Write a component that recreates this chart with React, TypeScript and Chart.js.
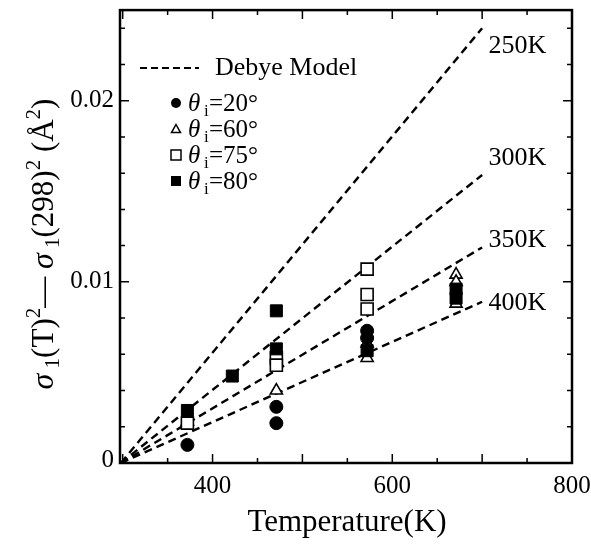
import React, { useEffect, useRef } from 'react';
import { Chart, registerables } from 'chart.js';
Chart.register(...registerables);

// ---- axes ----
const tempMin = 297;
const tempMax = 800;
const yMin = 0;
const yMax = 0.025;
const xTickLabels = [400, 600, 800];
const yTickLabels = [0, 0.01, 0.02];

// ---- measured points ----
const theta20T = [372, 471, 471, 572, 572];
const theta20Y = [0.001, 0.0031, 0.0022, 0.0073, 0.0069];
const theta60T = [372, 471, 572, 572, 671, 671, 671];
const theta60Y = [0.0023, 0.004, 0.0066, 0.0058, 0.0104, 0.01, 0.0088];
const theta75T = [372, 471, 471, 572, 572, 572];
const theta75Y = [0.0022, 0.0058, 0.0054, 0.0107, 0.0093, 0.0085];
const theta80T = [372, 422, 471, 471, 572, 671, 671];
const theta80Y = [0.0029, 0.0048, 0.0084, 0.0063, 0.0062, 0.0096, 0.0091];

// ---- Debye model lines ----
const debyeT = [298, 700];
const debye250Y = [0, 0.024];
const debye300Y = [0, 0.0159];
const debye350Y = [0, 0.0119];
const debye400Y = [0, 0.0089];
const debyeLabels = ['250K', '300K', '350K', '400K'];
const debyeLabelT = 707;
const debyeLabelY = [0.023, 0.0168, 0.0123, 0.0088];

const legendLabels = ['20°', '60°', '75°', '80°'];

const SERIF = "'Liberation Serif', 'Times New Roman', serif";

const pts = (xs: number[], ys: number[]) => xs.map((x, i) => ({ x, y: ys[i] }));

function drawMarker(ctx: CanvasRenderingContext2D, kind: string, x: number, y: number, s: number) {
  ctx.save();
  ctx.lineWidth = 1.5;
  ctx.strokeStyle = '#000';
  ctx.fillStyle = '#000';
  ctx.beginPath();
  if (kind === 'circle') {
    ctx.arc(x, y, s / 2, 0, Math.PI * 2);
    ctx.fill();
  } else if (kind === 'triangle') {
    ctx.moveTo(x, y - s / 2);
    ctx.lineTo(x + s / 2, y + s / 2 * 0.8);
    ctx.lineTo(x - s / 2, y + s / 2 * 0.8);
    ctx.closePath();
    ctx.fillStyle = '#fff';
    ctx.fill();
    ctx.stroke();
  } else if (kind === 'openrect') {
    ctx.rect(x - s / 2, y - s / 2, s, s);
    ctx.fillStyle = '#fff';
    ctx.fill();
    ctx.stroke();
  } else {
    ctx.rect(x - s / 2, y - s / 2, s, s);
    ctx.fill();
  }
  ctx.restore();
}

const decorPlugin = {
  id: 'decor',
  afterDraw(chart: any) {
    const ctx: CanvasRenderingContext2D = chart.ctx;
    const { left, right, top, bottom } = chart.chartArea;
    const xs = chart.scales.x;
    const ys = chart.scales.y;
    ctx.save();
    // frame
    ctx.strokeStyle = '#000';
    ctx.lineWidth = 2.5;
    ctx.strokeRect(left, top, right - left, bottom - top);
    // ticks
    ctx.lineWidth = 1.5;
    ctx.beginPath();
    for (let v = 300; v <= 800; v += 50) {
      const x = xs.getPixelForValue(v);
      if (x < left + 2 || x > right - 2) continue;
      const len = v % 100 === 0 ? 9 : 5;
      ctx.moveTo(x, bottom);
      ctx.lineTo(x, bottom - len);
      ctx.moveTo(x, top);
      ctx.lineTo(x, top + len);
    }
    for (let i = 1; i <= 12; i++) {
      const v = i * 0.002;
      const y = ys.getPixelForValue(v);
      const len = i % 5 === 0 ? 9 : 5;
      ctx.moveTo(left, y);
      ctx.lineTo(left + len, y);
      ctx.moveTo(right, y);
      ctx.lineTo(right - len, y);
    }
    ctx.stroke();

    ctx.fillStyle = '#000';
    // tick labels
    ctx.font = `25px ${SERIF}`;
    ctx.textAlign = 'center';
    ctx.textBaseline = 'middle';
    xTickLabels.forEach((v) => ctx.fillText(String(v), xs.getPixelForValue(v), bottom + 23));
    ctx.textAlign = 'right';
    yTickLabels.forEach((v) => {
      const y = Math.min(ys.getPixelForValue(v), bottom - 3);
      ctx.fillText(v === 0 ? '0' : v.toFixed(2), left - 6, y);
    });

    // Debye labels
    ctx.font = `26px ${SERIF}`;
    ctx.textBaseline = 'middle';
    ctx.textAlign = 'left';
    debyeLabels.forEach((t, i) => {
      ctx.fillText(t, xs.getPixelForValue(debyeLabelT), ys.getPixelForValue(debyeLabelY[i]));
    });

    // legend: Debye Model
    ctx.lineWidth = 2.2;
    ctx.setLineDash([7, 4]);
    ctx.beginPath();
    ctx.moveTo(140, 68);
    ctx.lineTo(199, 68);
    ctx.stroke();
    ctx.setLineDash([]);
    ctx.font = `26px ${SERIF}`;
    ctx.fillText('Debye Model', 215, 68);

    // legend: markers
    const kinds = ['circle', 'triangle', 'openrect', 'rect'];
    const sizes = [10, 9, 10, 10];
    const rowsY = [103, 129, 155, 181];
    kinds.forEach((k, i) => {
      const y = rowsY[i];
      drawMarker(ctx, k, 176, y, sizes[i]);
      ctx.textBaseline = 'alphabetic';
      ctx.font = `italic 25px ${SERIF}`;
      ctx.fillText('θ', 188, y + 8);
      ctx.font = `17px ${SERIF}`;
      ctx.fillText('i', 204, y + 13);
      ctx.font = `25px ${SERIF}`;
      ctx.fillText('=' + legendLabels[i], 209, y + 8);
    });

    // x title
    ctx.font = `31px ${SERIF}`;
    ctx.textAlign = 'center';
    ctx.textBaseline = 'middle';
    ctx.fillText('Temperature(K)', 347, 523);

    // y title (rotated, with sub/superscripts)
    const parts: [string, string][] = [
      ['σ', 'g'], [' 1', 'sub'], ['(T)', 'n'], ['2', 'sup'], ['— ', 'n'], ['σ', 'g'], [' 1', 'sub'],
      ['(298)', 'n'], ['2', 'sup'], [' (', 'n'], ['Å', 'n'], ['2', 'sup'], [')', 'n'],
    ];
    const fontFor = (k: string) =>
      k === 'g' ? `italic 32px ${SERIF}` : k === 'n' ? `31px ${SERIF}` : `21px ${SERIF}`;
    let total = 0;
    const widths = parts.map(([t, k]) => {
      ctx.font = fontFor(k);
      const w = ctx.measureText(t).width;
      total += w;
      return w;
    });
    ctx.save();
    ctx.translate(53, 244);
    ctx.rotate(-Math.PI / 2);
    ctx.textAlign = 'left';
    ctx.textBaseline = 'alphabetic';
    let cx = -total / 2;
    parts.forEach(([t, k], i) => {
      ctx.font = fontFor(k);
      const dy = k === 'sub' ? 6 : k === 'sup' ? -13 : 0;
      ctx.fillText(t, cx, dy);
      cx += widths[i];
    });
    ctx.restore();

    ctx.restore();
  },
};

export default function App() {
  const ref = useRef<HTMLCanvasElement>(null);
  useEffect(() => {
    if (!ref.current) return;
    const lineDs = (ys: number[]) => ({
      type: 'scatter' as const,
      data: pts(debyeT, ys),
      showLine: true,
      borderColor: '#000',
      borderWidth: 2.4,
      borderDash: [8, 5],
      pointRadius: 0,
      fill: false,
      order: 2,
    });
    const chart = new Chart(ref.current, {
      type: 'scatter',
      data: {
        datasets: [
          { data: pts(theta80T, theta80Y), pointStyle: 'rect', pointRadius: 8.5, backgroundColor: '#000', borderColor: '#000', borderWidth: 1, order: 0 },
          { data: pts(theta20T, theta20Y), pointStyle: 'circle', pointRadius: 6.5, backgroundColor: '#000', borderColor: '#000', borderWidth: 1, order: 1 },
          { data: pts(theta75T, theta75Y), pointStyle: 'rect', pointRadius: 8.5, backgroundColor: '#fff', borderColor: '#000', borderWidth: 1.6, order: 1 },
          { data: pts(theta60T, theta60Y), pointStyle: 'triangle', pointRadius: 7, backgroundColor: '#fff', borderColor: '#000', borderWidth: 1.6, order: 1 },
          lineDs(debye250Y),
          lineDs(debye300Y),
          lineDs(debye350Y),
          lineDs(debye400Y),
        ] as any,
      },
      options: {
        animation: false,
        responsive: false,
        layout: { padding: { left: 0, right: 19, top: 7, bottom: 0 } },
        plugins: { legend: { display: false }, tooltip: { enabled: false } },
        scales: {
          x: {
            type: 'linear',
            min: tempMin,
            max: tempMax,
            grid: { display: false, drawTicks: false },
            border: { display: false },
            afterFit: (s: any) => { s.height = 88; },
            ticks: { display: false },
          },
          y: {
            type: 'linear',
            min: yMin,
            max: yMax,
            grid: { display: false, drawTicks: false },
            border: { display: false },
            afterFit: (s: any) => { s.width = 120; },
            ticks: { display: false },
          },
        },
      },
      plugins: [decorPlugin],
    });
    return () => chart.destroy();
  }, []);
  return (
    <div style={{ position: 'absolute', left: 0, top: 0, width: 591, height: 551, background: '#fff' }}>
      <canvas ref={ref} width={591} height={551} style={{ display: 'block' }} />
    </div>
  );
}
